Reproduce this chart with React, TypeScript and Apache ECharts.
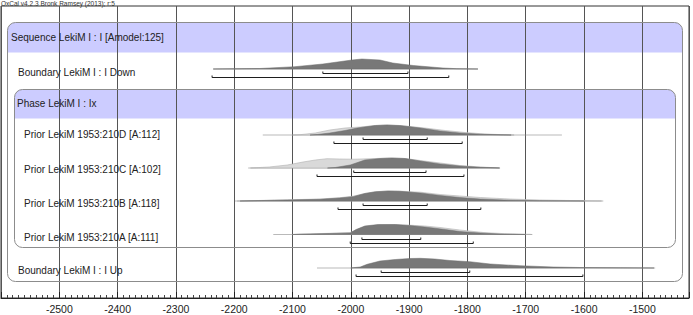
import React, { useEffect, useRef } from "react";
import * as echarts from "echarts";

// ---- axis ----
const X_MIN = -2600;
const X_MAX = -1420;
const X_STEP = 100;

// ---- row labels ----
const titleText = "OxCal v4.2.3 Bronk Ramsey (2013); r:5";
const sequenceLabel = "Sequence LekiM I : I [Amodel:125]";
const phaseLabel = "Phase LekiM I : Ix";
const rowLabels = [
  "Boundary LekiM I : I Down",
  "Prior LekiM 1953:210D [A:112]",
  "Prior LekiM 1953:210C [A:102]",
  "Prior LekiM 1953:210B [A:118]",
  "Prior LekiM 1953:210A [A:111]",
  "Boundary LekiM I : I Up",
];

// ---- full extent of each distribution (calBC as negative years) ----
const spans = [
  [-2236, -1782],
  [-2151, -1638],
  [-2176, -1744],
  [-2199, -1567],
  [-2133, -1689],
  [-2058, -1478],
];

// ---- unmodelled (likelihood) distributions: [year, relative probability] ----
const priorD = [[-2100,0],[-2087,0.03],[-2061,0.2],[-2036,0.5],[-2010,0.7],[-1984,0.8],[-1958,0.95],[-1938,1],[-1907,0.9],[-1873,0.7],[-1838,0.45],[-1804,0.25],[-1770,0.1],[-1739,0.03],[-1720,0]];
const priorC = [[-2172,0],[-2140,0.1],[-2109,0.3],[-2082,0.6],[-2061,0.8],[-2041,0.93],[-2019,0.9],[-1993,0.88],[-1967,0.93],[-1933,1],[-1907,0.95],[-1881,0.75],[-1847,0.5],[-1813,0.25],[-1778,0.1],[-1753,0.03],[-1745,0]];
const priorB = [[-2195,0],[-2173,0.03],[-2109,0.12],[-2053,0.2],[-2019,0.33],[-1996,0.48],[-1976,0.75],[-1958,0.9],[-1936,1],[-1916,0.98],[-1881,0.88],[-1847,0.65],[-1813,0.5],[-1778,0.35],[-1727,0.2],[-1676,0.1],[-1624,0.05],[-1570,0]];
const priorA = [[-2100,0],[-2087,0.04],[-2036,0.12],[-2001,0.2],[-1991,0.45],[-1976,0.8],[-1953,0.95],[-1924,0.98],[-1899,0.93],[-1873,0.85],[-1847,0.7],[-1813,0.45],[-1773,0.2],[-1736,0.08],[-1693,0.02],[-1689,0]];

// ---- modelled (posterior) distributions ----
const postDown = [[-2236,0],[-2156,0.05],[-2096,0.23],[-2048,0.5],[-1998,0.9],[-1981,1],[-1950,0.9],[-1928,0.6],[-1893,0.35],[-1842,0.1],[-1818,0.03],[-1782,0]];
const postD = [[-2070,0],[-2058,0.05],[-2036,0.2],[-2010,0.45],[-1989,0.7],[-1958,0.95],[-1938,1],[-1916,0.95],[-1881,0.7],[-1847,0.4],[-1813,0.2],[-1778,0.08],[-1744,0.02],[-1725,0]];
const postC = [[-2040,0],[-2027,0.05],[-2001,0.3],[-1976,0.8],[-1950,0.95],[-1929,1],[-1907,0.95],[-1881,0.7],[-1847,0.4],[-1813,0.2],[-1778,0.07],[-1753,0.02],[-1745,0]];
const postB = [[-2190,0],[-2173,0.02],[-2109,0.1],[-2053,0.17],[-2019,0.3],[-1996,0.43],[-1976,0.75],[-1958,0.93],[-1936,1],[-1916,0.97],[-1881,0.8],[-1847,0.55],[-1813,0.35],[-1778,0.2],[-1727,0.08],[-1676,0.03],[-1624,0.01],[-1600,0]];
const postA = [[-2100,0],[-2087,0.03],[-2036,0.1],[-2001,0.15],[-1991,0.5],[-1976,0.85],[-1953,1],[-1924,1],[-1899,0.9],[-1873,0.75],[-1838,0.5],[-1813,0.3],[-1778,0.15],[-1744,0.05],[-1710,0.01],[-1700,0]];
const postUp = [[-2000,0],[-1996,0.03],[-1984,0.1],[-1972,0.37],[-1950,0.7],[-1924,0.85],[-1899,0.95],[-1881,0.97],[-1856,0.9],[-1830,0.75],[-1796,0.63],[-1761,0.4],[-1710,0.23],[-1653,0.1],[-1607,0.05],[-1538,0.02],[-1480,0]];

const priors = [null, priorD, priorC, priorB, priorA, null];
const posteriors = [postDown, postD, postC, postB, postA, postUp];

// ---- highest posterior density ranges ----
const range68 = [
  [-2048, -1902],
  [-1979, -1869],
  [-1995, -1871],
  [-1979, -1869],
  [-1981, -1880],
  [-1948, -1796],
];
const range95 = [
  [-2238, -1832],
  [-2029, -1809],
  [-2058, -1806],
  [-2022, -1777],
  [-2001, -1790],
  [-1991, -1602],
];

// ---- layout (pixels) ----
const W = 693;
const H = 315;
const GRID = { left: 1, right: 4, top: 6, bottom: 17 };
const PLOT_H = H - GRID.top - GRID.bottom;
const rowBase = [69, 135, 168, 201, 234.5, 268]; // page y of each baseline
const rowTextY = [72, 134, 169, 203, 237, 270];
const rowTextX = [18, 24, 24, 24, 24, 18];
const PEAK = 10;
const FONT = "Liberation Sans, Arial, sans-serif";
const LABEL_SIZE = 10;

export default function App() {
  const ref = useRef<HTMLDivElement>(null);

  useEffect(() => {
    if (!ref.current) return;
    const chart = echarts.init(ref.current, undefined, { renderer: "svg", width: W, height: H });

    const renderItem = (params: any, api: any) => {
      const i = api.value(0);
      const base = rowBase[i] - GRID.top;
      const pt = (yr: number, h: number) => api.coord([yr, base - h * PEAK]);
      const children: any[] = [];
      const s = spans[i];
      const a = pt(s[0], 0);
      const b = pt(s[1], 0);
      children.push({
        type: "line",
        shape: { x1: a[0], y1: a[1], x2: b[0], y2: b[1] },
        style: { stroke: "#8a8a8a", lineWidth: 0.6 },
      });
      const pr = priors[i];
      if (pr) {
        children.push({
          type: "polygon",
          shape: { points: pr.map((p) => pt(p[0], p[1])) },
          style: { fill: "#d9d9d9", stroke: "#b0b0b0", lineWidth: 0.6 },
        });
      }
      const po = posteriors[i];
      children.push({
        type: "polygon",
        shape: { points: po.map((p) => pt(p[0], p[1])) },
        style: { fill: "#787878", stroke: "#6a6a6a", lineWidth: 0.5 },
      });
      const brackets = [
        { r: range68[i], off: 4 },
        { r: range95[i], off: 8 },
      ];
      brackets.forEach(({ r, off }) => {
        const p1 = api.coord([r[0], base]);
        const p2 = api.coord([r[1], base]);
        const y = Math.round(p1[1] + off) + 0.5;
        children.push({
          type: "polyline",
          shape: { points: [[p1[0], y - 2], [p1[0], y], [p2[0], y], [p2[0], y - 2]] },
          style: { stroke: "#1e1e1e", lineWidth: 1, fill: null },
        });
      });
      return { type: "group", children };
    };

    const graphic: any[] = [
      // sequence header band
      { type: "rect", z: -10, shape: { x: 7.5, y: 22.5, width: 675, height: 30, r: [8, 8, 0, 0] }, style: { fill: "#ccccff" } },
      // phase header band
      { type: "rect", z: -10, shape: { x: 14.5, y: 89.5, width: 661, height: 29, r: [8, 8, 0, 0] }, style: { fill: "#ccccff" } },
      // sequence box outline
      { type: "rect", z: 5, shape: { x: 7.5, y: 22.5, width: 675, height: 259, r: 8 }, style: { fill: null, stroke: "#8c8c8c", lineWidth: 1 } },
      // phase box outline
      { type: "rect", z: 5, shape: { x: 14.5, y: 89.5, width: 661, height: 158, r: 8 }, style: { fill: null, stroke: "#8c8c8c", lineWidth: 1 } },
      { type: "text", z: 6, x: 1, y: 3, style: { text: titleText, fill: "#333", font: `6.5px ${FONT}`, verticalAlign: "middle" } },
      { type: "text", z: 6, x: 11, y: 37, style: { text: sequenceLabel, fill: "#222", font: `${LABEL_SIZE}px ${FONT}`, verticalAlign: "middle" } },
      { type: "text", z: 6, x: 17, y: 103, style: { text: phaseLabel, fill: "#222", font: `${LABEL_SIZE}px ${FONT}`, verticalAlign: "middle" } },
      ...rowLabels.map((t, i) => ({
        type: "text",
        z: 6,
        x: rowTextX[i],
        y: rowTextY[i],
        style: { text: t, fill: "#222", font: `${LABEL_SIZE}px ${FONT}`, verticalAlign: "middle" },
      })),
    ];

    chart.setOption({
      animation: false,
      backgroundColor: "#ffffff",
      grid: { ...GRID, show: true, borderColor: "#333", borderWidth: 1, containLabel: false },
      xAxis: {
        type: "value",
        min: X_MIN,
        max: X_MAX,
        interval: X_STEP,
        axisLine: { show: true, onZero: false, lineStyle: { color: "#222", width: 1 } },
        axisTick: { show: true, inside: true, length: 6, lineStyle: { color: "#222" } },
        minorTick: { show: true, splitNumber: 10, length: 3, lineStyle: { color: "#444" } },
        axisLabel: {
          showMinLabel: false,
          showMaxLabel: false,
          fontSize: 10.5,
          color: "#222",
          fontFamily: FONT,
          margin: 5,
          formatter: (v: number) => String(v),
        },
        splitLine: { show: true, lineStyle: { color: "#555", width: 1 } },
        minorSplitLine: { show: false },
      },
      yAxis: {
        type: "value",
        min: 0,
        max: PLOT_H,
        inverse: true,
        show: false,
        splitLine: { show: false },
      },
      graphic,
      series: [
        {
          type: "custom",
          renderItem,
          data: rowLabels.map((_, i) => [i, 0]),
          encode: { x: 1, y: 1 },
          z: 3,
          silent: true,
        },
      ],
    });

    return () => chart.dispose();
  }, []);

  return (
    <div
      ref={ref}
      style={{ position: "fixed", left: 0, top: 0, width: W, height: H, background: "#fff" }}
    />
  );
}
